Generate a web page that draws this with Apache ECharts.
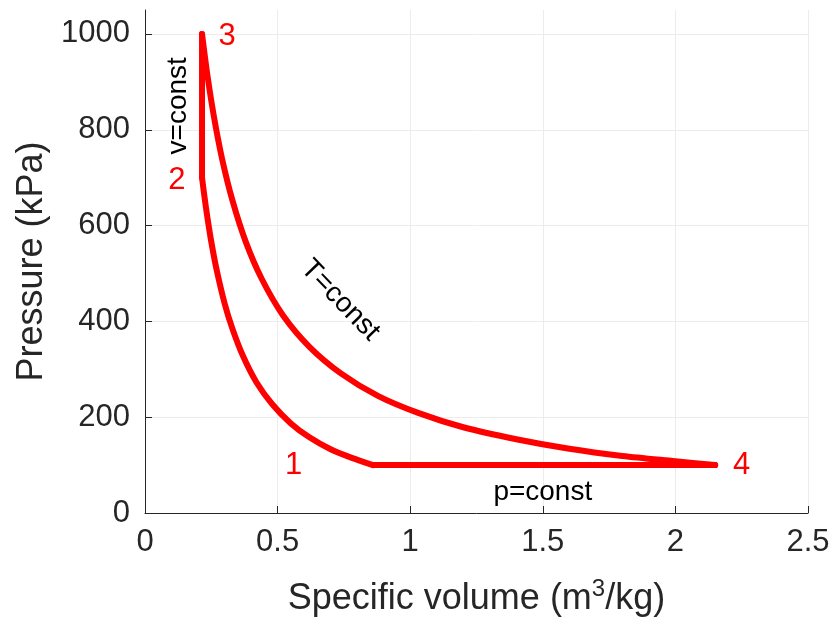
<!DOCTYPE html>
<html lang="en">
<head>
    <meta charset="UTF-8">
    <title>p-v diagram</title>
    <script src="https://cdn.jsdelivr.net/npm/echarts@6/dist/echarts.min.js"></script>
</head>
<style>
    *{
        margin: 0;
        padding: 0;
    }
    html,body{
        width: 100%;
        height: 100%;
        overflow: hidden;
        background: #fff;
    }
    .container{
        width: 835px;
        height: 627px;
    }
</style>
<body>
<div class="container"></div>
<script>
   // 1 -> 2 : adiabatic compression
   const compV = [0.86, 0.78, 0.7, 0.62, 0.55, 0.48, 0.42, 0.37, 0.33, 0.3, 0.27, 0.25, 0.235, 0.225, 0.215];
   const compP = [100, 115, 133, 158, 187, 227, 273, 327, 384, 438, 508, 566, 618, 657, 700];
   // 2 -> 3 : v = const
   const heatV = [0.215, 0.215];
   const heatP = [700, 1000];
   // 3 -> 4 : T = const
   const expV = [0.215, 0.235, 0.26, 0.29, 0.33, 0.38, 0.44, 0.52, 0.62, 0.74, 0.88, 1.03, 1.2, 1.4, 1.6, 1.8, 2.0, 2.15];
   const expP = [1000, 915, 827, 741, 652, 566, 489, 413, 347, 291, 244, 209, 179, 154, 134, 119, 108, 100];
   // 4 -> 1 : p = const
   const coolV = [2.15, 0.86];
   const coolP = [100, 100];

   // state numbers and process notes
   const stateNames = ['1', '2', '3', '4'];
   const stateV = [0.56, 0.12, 0.31, 2.25];
   const stateP = [100, 695, 995, 100];
   const noteNames = ['v=const', 'T=const', 'p=const'];
   const noteV = [0.125, 0.736, 1.5];
   const noteP = [850, 444, 44];
   const noteRot = [90, -46, 0];

   const yTicks = [0, 200, 400, 600, 800, 1000];

   let font = 'Liberation Sans, Arial, sans-serif';
   let axisColor = '#262626';
   let red = '#ff0000';

   function pairs(vs, ps) {
       return vs.map((v, i) => [v, ps[i]]);
   }

   function process(vs, ps, smooth) {
       return {
           type: 'line',
           data: pairs(vs, ps),
           showSymbol: false,
           smooth: smooth,
           lineStyle: {color: red, width: 6, cap: 'round', join: 'round'},
           z: 3
       };
   }

   let mycharts = echarts.init(document.querySelector('.container'));
   let options = {
       animation: false,
       grid: {left: 145, right: 27, top: 10, bottom: 114},
       xAxis: {
           type: 'value',
           min: 0, max: 2.5, interval: 0.5,
           axisLine: {lineStyle: {color: axisColor, width: 1}},
           axisTick: {inside: true, length: 7, lineStyle: {color: axisColor}},
           axisLabel: {fontSize: 31, color: axisColor, fontFamily: font, margin: 14, formatter: v => String(v)},
           splitLine: {show: true, lineStyle: {color: '#ececec'}},
           name: '{a|Specific volume (m}{s|3}{a|/kg)}',
           nameLocation: 'middle',
           nameGap: 64,
           nameTextStyle: {
               rich: {
                   a: {fontSize: 36, color: axisColor, fontFamily: font, lineHeight: 40, verticalAlign: 'bottom', padding: [12, 0, 0, 0]},
                   s: {fontSize: 24, color: axisColor, fontFamily: font, lineHeight: 6, verticalAlign: 'top'}
               }
           }
       },
       yAxis: {
           type: 'value',
           min: 0, max: 1050, interval: 200,
           axisLine: {show: true, lineStyle: {color: axisColor, width: 1}},
           axisTick: {show: true, inside: true, length: 7, lineStyle: {color: axisColor}, customValues: yTicks},
           axisLabel: {fontSize: 31, color: axisColor, fontFamily: font, margin: 15, customValues: yTicks, formatter: v => String(v)},
           splitLine: {show: true, lineStyle: {color: '#ececec'}},
           name: 'Pressure (kPa)',
           nameLocation: 'middle',
           nameGap: 80,
           nameTextStyle: {fontSize: 36, color: axisColor, fontFamily: font}
       },
       series: [
           process(compV, compP, 0.3),
           process(heatV, heatP, false),
           process(expV, expP, 0.3),
           process(coolV, coolP, false),
           {
               type: 'scatter',
               symbolSize: 0,
               itemStyle: {opacity: 1},
               data: stateNames.map((n, i) => ({name: n, value: [stateV[i], stateP[i]]})),
               label: {
                   show: true, position: 'inside', formatter: '{b}',
                   fontSize: 31, color: '#ff0000', fontFamily: font
               },
               z: 4
           },
           {
               type: 'scatter',
               symbolSize: 0,
               itemStyle: {opacity: 1},
               data: noteNames.map((n, i) => ({
                   name: n, value: [noteV[i], noteP[i]],
                   label: {rotate: noteRot[i]}
               })),
               label: {
                   show: true, position: 'inside', formatter: '{b}',
                   fontSize: 28, color: '#000', fontFamily: font
               },
               z: 4
           }
       ]
   };
   mycharts.setOption(options);
</script>
</body>
</html>
